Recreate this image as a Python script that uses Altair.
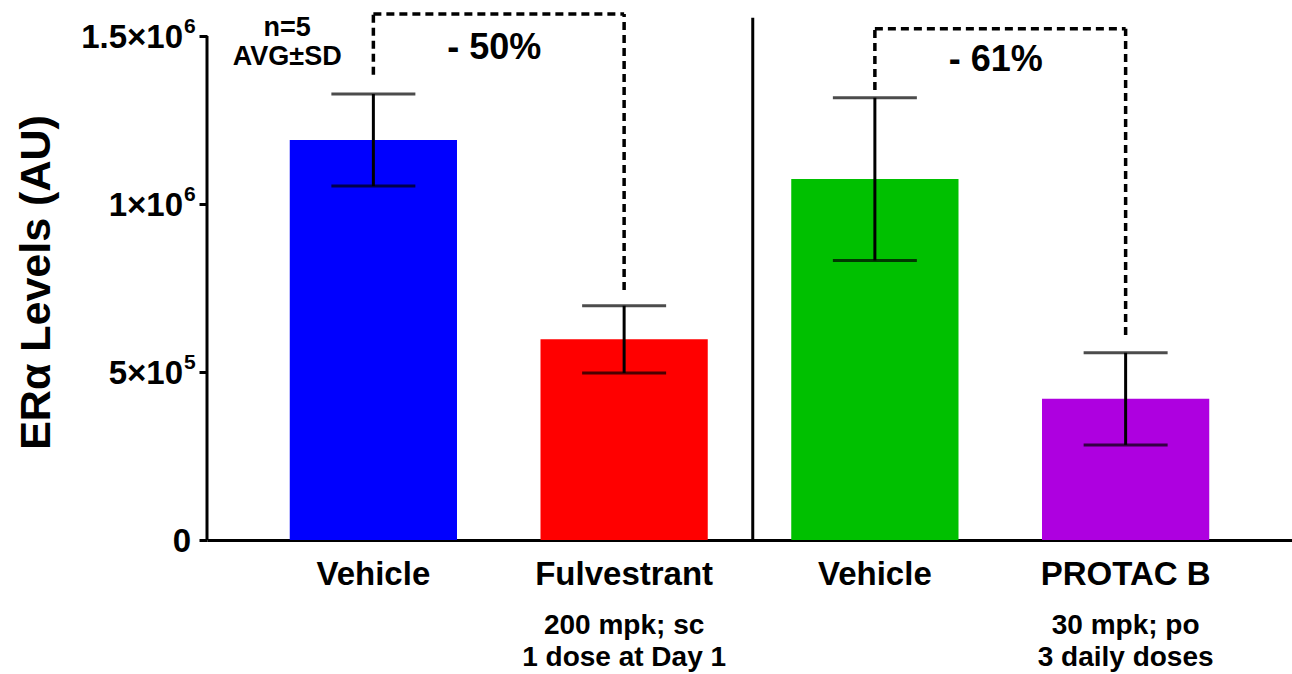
import altair as alt
import pandas as pd

# Groups (unique keys) and their displayed names
groups = ["veh1", "fulv", "veh2", "protac"]
group_labels = ["Vehicle", "Fulvestrant", "Vehicle", "PROTAC B"]
dose_line1 = ["", "200 mpk; sc", "", "30 mpk; po"]
dose_line2 = ["", "1 dose at Day 1", "", "3 daily doses"]
bar_colors = ["#0000FF", "#FF0000", "#00C000", "#AE00E0"]

# ERα levels: mean and standard deviation (n=5)
means = [1190000, 597000, 1074000, 420000]
sds = [137000, 100000, 242000, 137000]

# Y axis ticks, written as mantissa×10 with a raised exponent
y_ticks = [0, 500000, 1000000, 1500000]
y_tick_main = ["0", "5×10", "1×10", "1.5×10"]
y_tick_exp = ["", "5", "6", "6"]
y_max = 1577000

# Dashed comparison brackets
bracket_left = ["veh1", "veh2"]
bracket_right = ["fulv", "protac"]
bracket_top = [1565000, 1521000]
bracket_left_start = [1384000, 1339000]
bracket_right_end = [744000, 610000]
bracket_text = ["- 50%", "- 61%"]
bracket_text_y = [1464000, 1429000]

# Sample-size note
note_lines = ["n=5", "AVG±SD"]
note_y = [1524000, 1437500]

FONT = "Liberation Sans"
W, H = 1085, 530
HALF_BAND = 83.5  # xOffset is measured from the band's start

df = pd.DataFrame({
    "group": groups,
    "label": group_labels,
    "mean": means,
    "sd": sds,
    "line1": dose_line1,
    "line2": dose_line2,
})
df["lo"] = df["mean"] - df["sd"]
df["hi"] = df["mean"] + df["sd"]

label_expr = " : ".join(
    f"datum.value == '{g}' ? '{l}'" for g, l in zip(groups, group_labels)
) + " : ''"

x_enc = alt.X(
    "group:N",
    sort=groups,
    scale=alt.Scale(domain=groups, paddingInner=0.333, paddingOuter=0.33),
    axis=alt.Axis(
        title=None,
        labelExpr=label_expr,
        labelAngle=0,
        labelFont=FONT,
        labelFontSize=33,
        labelFontWeight="bold",
        labelColor="black",
        labelPadding=18,
        labelBaseline="top",
        ticks=False,
        domain=True,
        domainColor="black",
        domainWidth=3,
    ),
)
y_scale = alt.Scale(domain=[0, y_max], nice=False, zero=True)
y_enc = alt.Y(
    "mean:Q",
    scale=y_scale,
    axis=alt.Axis(
        title="ERα Levels (AU)",
        titleFont=FONT,
        titleFontSize=43,
        titleFontWeight="bold",
        titleColor="black",
        titleX=-171,
        titleY=272,
        titleAngle=270,
        titleAlign="center",
        titleBaseline="middle",
        values=y_ticks,
        labels=False,
        tickSize=8,
        tickWidth=3,
        tickColor="black",
        domain=False,
        grid=False,
    ),
)

base = alt.Chart(df)

bars = base.mark_bar().encode(
    x=x_enc,
    y=y_enc,
    color=alt.Color("group:N", scale=alt.Scale(domain=groups, range=bar_colors), legend=None),
)

err_line = base.mark_rule(color="black", strokeWidth=3).encode(
    x=alt.X("group:N", sort=groups),
    y=alt.Y("lo:Q", scale=y_scale),
    y2="hi:Q",
)
err_caps_hi = base.mark_tick(color="black", thickness=3, size=84, orient="horizontal").encode(
    x=alt.X("group:N", sort=groups),
    y=alt.Y("hi:Q", scale=y_scale),
)
err_caps_lo = base.mark_tick(color="black", thickness=3, size=84, orient="horizontal").encode(
    x=alt.X("group:N", sort=groups),
    y=alt.Y("lo:Q", scale=y_scale),
)

# Dose details below the category labels
dose1 = base.mark_text(font=FONT, fontSize=28, fontWeight="bold", color="black", baseline="middle").encode(
    x=alt.X("group:N", sort=groups),
    y=alt.value(616),
    text="line1:N",
)
dose2 = base.mark_text(font=FONT, fontSize=28, fontWeight="bold", color="black", baseline="middle").encode(
    x=alt.X("group:N", sort=groups),
    y=alt.value(648),
    text="line2:N",
)

# Y tick labels with superscript exponents
tick_df = pd.DataFrame({"v": y_ticks, "main": y_tick_main, "exp": y_tick_exp})
tick_main = alt.Chart(tick_df).transform_filter("datum.exp != ''").mark_text(
    font=FONT, fontSize=33, fontWeight="bold", color="black", align="right", baseline="middle", dy=2
).encode(x=alt.value(-24), y=alt.Y("v:Q", scale=y_scale), text="main:N")
tick_zero = alt.Chart(tick_df).transform_filter("datum.exp == ''").mark_text(
    font=FONT, fontSize=33, fontWeight="bold", color="black", align="right", baseline="middle", dy=2
).encode(x=alt.value(-16), y=alt.Y("v:Q", scale=y_scale), text="main:N")
tick_exp = alt.Chart(tick_df).mark_text(
    font=FONT, fontSize=21, fontWeight="bold", color="black", align="left", baseline="middle", dy=-9
).encode(x=alt.value(-23), y=alt.Y("v:Q", scale=y_scale), text="exp:N")

# Y axis line and the panel separator
yaxis_df = pd.DataFrame({"y0": [0], "y1": [y_ticks[-1]]})
yaxis_line = alt.Chart(yaxis_df).mark_rule(color="black", strokeWidth=3).encode(
    x=alt.value(0),
    y=alt.Y("y0:Q", scale=y_scale),
    y2="y1:Q",
)
sep_df = pd.DataFrame({"group": ["veh2"], "y0": [0], "y1": [1554000]})
separator = alt.Chart(sep_df).mark_rule(color="black", strokeWidth=3).encode(
    x=alt.X("group:N", sort=groups),
    xOffset=alt.value(HALF_BAND - 122),
    y=alt.Y("y0:Q", scale=y_scale),
    y2="y1:Q",
)

# Dashed brackets
br_df = pd.DataFrame({
    "left": bracket_left,
    "right": bracket_right,
    "top": bracket_top,
    "lstart": bracket_left_start,
    "rend": bracket_right_end,
    "text": bracket_text,
    "ty": bracket_text_y,
})
dash = [8, 5]
DW = 3.5
br_h = alt.Chart(br_df).mark_rule(color="black", strokeWidth=DW, strokeDash=dash).encode(
    x=alt.X("left:N", sort=groups, scale=alt.Scale(domain=groups)),
    x2="right:N",
    y=alt.Y("top:Q", scale=y_scale),
)
br_l = alt.Chart(br_df).mark_rule(color="black", strokeWidth=DW, strokeDash=dash).encode(
    x=alt.X("left:N", sort=groups),
    y=alt.Y("lstart:Q", scale=y_scale),
    y2="top:Q",
)
br_r = alt.Chart(br_df).mark_rule(color="black", strokeWidth=DW, strokeDash=dash).encode(
    x=alt.X("right:N", sort=groups),
    y=alt.Y("rend:Q", scale=y_scale),
    y2="top:Q",
)
br_text = alt.Chart(br_df).mark_text(font=FONT, fontSize=36, fontWeight="bold", color="black", baseline="middle").encode(
    x=alt.X("left:N", sort=groups),
    xOffset=alt.value(HALF_BAND + 121),
    y=alt.Y("ty:Q", scale=y_scale),
    text="text:N",
)

note_df = pd.DataFrame({"group": ["veh1", "veh1"], "text": note_lines, "y": note_y})
note = alt.Chart(note_df).mark_text(font=FONT, fontSize=27, fontWeight="bold", color="black", baseline="middle").encode(
    x=alt.X("group:N", sort=groups),
    xOffset=alt.value(HALF_BAND - 86),
    y=alt.Y("y:Q", scale=y_scale),
    text="text:N",
)

chart = alt.layer(
    bars, err_line, err_caps_hi, err_caps_lo, dose1, dose2,
    tick_main, tick_zero, tick_exp,
    yaxis_line, separator, br_h, br_l, br_r, br_text, note,
).properties(
    width=W,
    height=H,
    autosize=alt.AutoSizeParams(type="none"),
    padding={"left": 207, "top": 10, "right": 0, "bottom": 134},
    background="white",
).configure_view(stroke=None)

chart.save("out.html", embed_options={"renderer": "svg", "actions": False})
